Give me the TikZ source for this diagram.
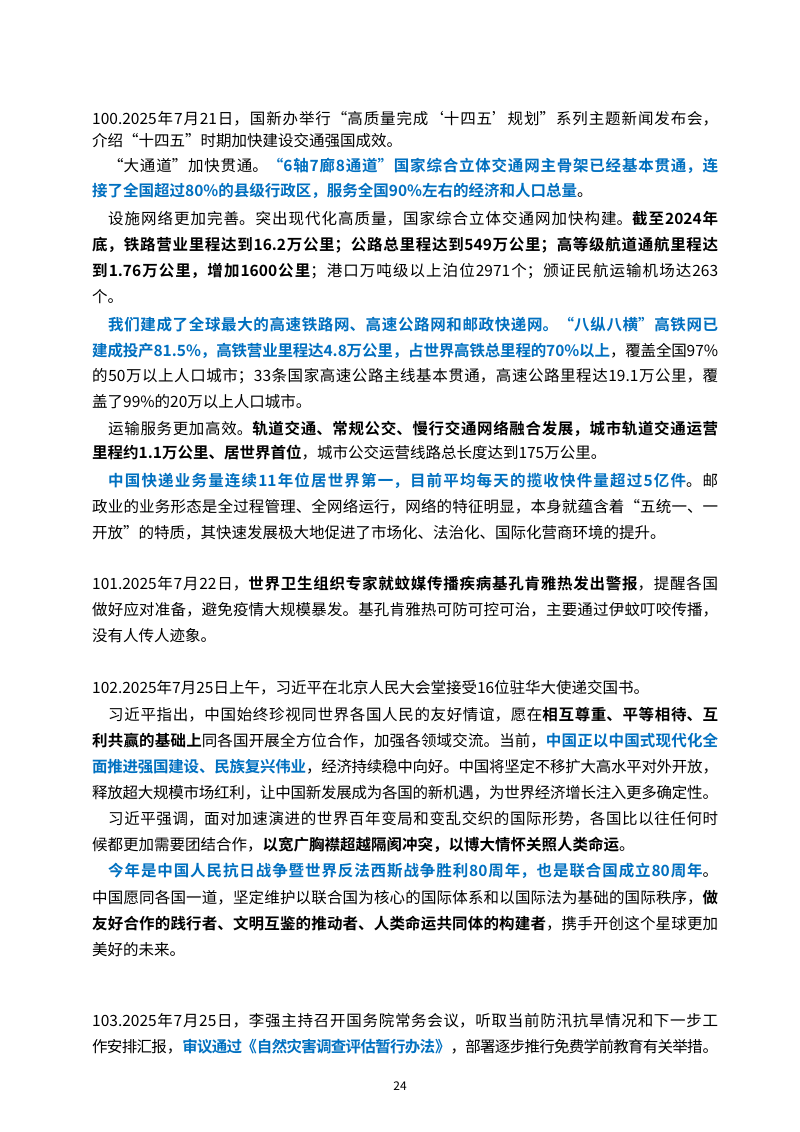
\documentclass[tikz,border=0pt]{standalone}
\usepackage{fontspec}
\setmainfont{Noto Sans CJK SC}[BoldFont={* Bold}]
\definecolor{hb}{RGB}{0,112,192}
\newcommand{\lineJ}[3]{\node[anchor=base west,inner sep=0pt] at (#1,#2) {\parbox[b]{\dimexpr718pt-#1pt\relax}{\fontsize{15.5}{18}\selectfont\XeTeXlinebreaklocale "zh"\XeTeXlinebreakskip=0pt plus 6pt minus 1pt\hbadness=10000\parfillskip=0pt\noindent #3}};}
\newcommand{\lineL}[3]{\node[anchor=base west,inner sep=0pt] at (#1,#2) {\fontsize{15.5}{18}\selectfont #3};}
\newcommand{\bb}[1]{\textbf{\color{hb}#1}}
\begin{document}
\begin{tikzpicture}[x=1pt,y=-1pt]
\useasboundingbox[fill=white] (0,0) rectangle (800,1132);
\lineJ{92}{124}{100.2025年7月21日，国新办举行“高质量完成‘十四五’规划”系列主题新闻发布会，}
\lineL{92}{146}{介绍“十四五”时期加快建设交通强国成效。}
\lineJ{108}{171}{“大通道”加快贯通。\bb{“6轴7廊8通道”国家综合立体交通网主骨架已经基本贯通，连}}
\lineL{92}{196}{\bb{接了全国超过80\%的县级行政区，服务全国90\%左右的经济和人口总量}。}
\lineJ{108}{224}{设施网络更加完善。突出现代化高质量，国家综合立体交通网加快构建。\textbf{截至2024年}}
\lineJ{92}{250}{\textbf{底，铁路营业里程达到16.2万公里；公路总里程达到549万公里；高等级航道通航里程达}}
\lineJ{92}{276}{\textbf{到1.76万公里，增加1600公里}；港口万吨级以上泊位2971个；颁证民航运输机场达263}
\lineL{92}{302}{个。}
\lineJ{108}{330}{\bb{我们建成了全球最大的高速铁路网、高速公路网和邮政快递网。“八纵八横”高铁网已}}
\lineJ{92}{356}{\bb{建成投产81.5\%，高铁营业里程达4.8万公里，占世界高铁总里程的70\%以上}，覆盖全国97\%}
\lineJ{92}{381}{的50万以上人口城市；33条国家高速公路主线基本贯通，高速公路里程达19.1万公里，覆}
\lineL{92}{407}{盖了99\%的20万以上人口城市。}
\lineJ{108}{434}{运输服务更加高效。\textbf{轨道交通、常规公交、慢行交通网络融合发展，城市轨道交通运营}}
\lineL{92}{458}{\textbf{里程约1.1万公里、居世界首位}，城市公交运营线路总长度达到175万公里。}
\lineJ{108}{486}{\bb{中国快递业务量连续11年位居世界第一，目前平均每天的揽收快件量超过5亿件}。邮}
\lineJ{92}{512}{政业的业务形态是全过程管理、全网络运行，网络的特征明显，本身就蕴含着“五统一、一}
\lineL{92}{538}{开放”的特质，其快速发展极大地促进了市场化、法治化、国际化营商环境的提升。}
\lineJ{92}{589}{101.2025年7月22日，\textbf{世界卫生组织专家就蚊媒传播疾病基孔肯雅热发出警报}，提醒各国}
\lineJ{92}{615}{做好应对准备，避免疫情大规模暴发。基孔肯雅热可防可控可治，主要通过伊蚊叮咬传播，}
\lineL{92}{641}{没有人传人迹象。}
\lineL{92}{693}{102.2025年7月25日上午，习近平在北京人民大会堂接受16位驻华大使递交国书。}
\lineJ{108}{720}{习近平指出，中国始终珍视同世界各国人民的友好情谊，愿在\textbf{相互尊重、平等相待、互}}
\lineJ{92}{746}{\textbf{利共赢的基础上}同各国开展全方位合作，加强各领域交流。当前，\bb{中国正以中国式现代化全}}
\lineJ{92}{772}{\bb{面推进强国建设、民族复兴伟业}，经济持续稳中向好。中国将坚定不移扩大高水平对外开放，}
\lineJ{92}{798}{释放超大规模市场红利，让中国新发展成为各国的新机遇，为世界经济增长注入更多确定性。}
\lineJ{108}{824}{习近平强调，面对加速演进的世界百年变局和变乱交织的国际形势，各国比以往任何时}
\lineL{92}{850}{候都更加需要团结合作，\textbf{以宽广胸襟超越隔阂冲突，以博大情怀关照人类命运}。}
\lineJ{108}{876}{\bb{今年是中国人民抗日战争暨世界反法西斯战争胜利80周年，也是联合国成立80周年}。}
\lineJ{92}{903}{中国愿同各国一道，坚定维护以联合国为核心的国际体系和以国际法为基础的国际秩序，\textbf{做}}
\lineJ{92}{929}{\textbf{友好合作的践行者、文明互鉴的推动者、人类命运共同体的构建者}，携手开创这个星球更加}
\lineL{92}{955}{美好的未来。}
\lineJ{92}{1026}{103.2025年7月25日，李强主持召开国务院常务会议，听取当前防汛抗旱情况和下一步工}
\lineJ{92}{1052}{作安排汇报，\bb{审议通过《自然灾害调查评估暂行办法》}，部署逐步推行免费学前教育有关举措。}
\node[anchor=base,inner sep=0pt,font=\fontsize{12}{14}\selectfont] (pg) at (400,1090) {24};
\end{tikzpicture}
\end{document}
